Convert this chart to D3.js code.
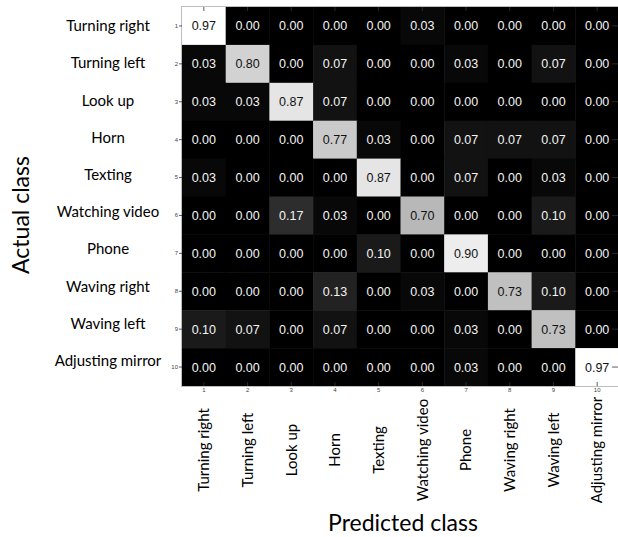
<!DOCTYPE html>
<html>
<head>
<meta charset="utf-8">
<script src="https://cdn.jsdelivr.net/npm/d3@7"></script>
<style>
  html, body { margin: 0; padding: 0; background: #fff; }
  svg { display: block; }
</style>
</head>
<body>
<svg id="chart" width="618" height="537"></svg>
<script>
// Activity classes (rows = actual, columns = predicted)
const classes = [
  "Turning right", "Turning left", "Look up", "Horn", "Texting",
  "Watching video", "Phone", "Waving right", "Waving left", "Adjusting mirror"
];
const tickNumbers = ["1", "2", "3", "4", "5", "6", "7", "8", "9", "10"];

// Normalised confusion matrix, one array per actual class
const rowTurningRight   = [0.97, 0.00, 0.00, 0.00, 0.00, 0.03, 0.00, 0.00, 0.00, 0.00];
const rowTurningLeft    = [0.03, 0.80, 0.00, 0.07, 0.00, 0.00, 0.03, 0.00, 0.07, 0.00];
const rowLookUp         = [0.03, 0.03, 0.87, 0.07, 0.00, 0.00, 0.00, 0.00, 0.00, 0.00];
const rowHorn           = [0.00, 0.00, 0.00, 0.77, 0.03, 0.00, 0.07, 0.07, 0.07, 0.00];
const rowTexting        = [0.03, 0.00, 0.00, 0.00, 0.87, 0.00, 0.07, 0.00, 0.03, 0.00];
const rowWatchingVideo  = [0.00, 0.00, 0.17, 0.03, 0.00, 0.70, 0.00, 0.00, 0.10, 0.00];
const rowPhone          = [0.00, 0.00, 0.00, 0.00, 0.10, 0.00, 0.90, 0.00, 0.00, 0.00];
const rowWavingRight    = [0.00, 0.00, 0.00, 0.13, 0.00, 0.03, 0.00, 0.73, 0.10, 0.00];
const rowWavingLeft     = [0.10, 0.07, 0.00, 0.07, 0.00, 0.00, 0.03, 0.00, 0.73, 0.00];
const rowAdjustMirror   = [0.00, 0.00, 0.00, 0.00, 0.00, 0.00, 0.03, 0.00, 0.00, 0.97];

const matrix = [rowTurningRight, rowTurningLeft, rowLookUp, rowHorn, rowTexting,
                rowWatchingVideo, rowPhone, rowWavingRight, rowWavingLeft, rowAdjustMirror];

const axisTitleX = "Predicted class";
const axisTitleY = "Actual class";

// ---- layout ----
const svg = d3.select("#chart");
const plot = { left: 182, right: 619, top: 7, bottom: 386 };
const labelFont = "Lato, 'Open Sans', sans-serif";

const x = d3.scaleBand().domain(d3.range(classes.length))
  .range([plot.left, plot.right]).paddingInner(0).paddingOuter(0);
const y = d3.scaleBand().domain(d3.range(classes.length))
  .range([plot.top, plot.bottom]).paddingInner(0).paddingOuter(0);

const maxVal = d3.max(matrix.flat());
const shade = d3.scaleLinear().domain([0, maxVal]).range([0, 255]).clamp(true);
const fillFor = v => { const g = Math.round(shade(v)); return `rgb(${g},${g},${g})`; };

const cells = [];
matrix.forEach((row, r) => row.forEach((v, c) => cells.push({ r, c, v })));

// heat-map cells
svg.append("g").selectAll("rect").data(cells).join("rect")
  .attr("x", d => x(d.c))
  .attr("y", d => y(d.r))
  .attr("width", x.bandwidth() + 0.5)
  .attr("height", y.bandwidth() + 0.5)
  .attr("fill", d => fillFor(d.v));

// cell value labels
svg.append("g").selectAll("text").data(cells).join("text")
  .attr("x", d => x(d.c) + x.bandwidth() / 2)
  .attr("y", d => y(d.r) + y.bandwidth() / 2)
  .attr("dy", "0.36em")
  .attr("text-anchor", "middle")
  .attr("font-family", "Arial, 'Liberation Sans', sans-serif")
  .attr("font-size", 12.5)
  .attr("fill", d => shade(d.v) > 128 ? "#111" : "#f4f4f4")
  .text(d => d.v.toFixed(2));

// frame
svg.append("rect")
  .attr("x", plot.left - 0.5).attr("y", plot.top - 0.5)
  .attr("width", plot.right - plot.left + 1).attr("height", plot.bottom - plot.top + 1)
  .attr("fill", "none").attr("stroke", "#bdbdbd").attr("stroke-width", 1);

// numeric tick axes
const tickColor = "#333";
const yAxis = svg.append("g").attr("transform", `translate(${plot.left},0)`)
  .call(d3.axisLeft(y).tickSize(3).tickPadding(1).tickFormat(i => tickNumbers[i]));
const xAxis = svg.append("g").attr("transform", `translate(0,${plot.bottom})`)
  .call(d3.axisBottom(x).tickSize(-4).tickPadding(2).tickFormat(i => tickNumbers[i]));
const topAxis = svg.append("g").attr("transform", `translate(0,${plot.top})`)
  .call(d3.axisTop(x).tickSize(-4).tickFormat(""));
const rightAxis = svg.append("g").attr("transform", `translate(${plot.right - 1},0)`)
  .call(d3.axisRight(y).tickSize(-6).tickFormat(""));
[yAxis, xAxis, topAxis, rightAxis].forEach(g => {
  g.select(".domain").remove();
  g.selectAll(".tick line").attr("stroke", tickColor).attr("stroke-width", 0.8);
  g.selectAll(".tick text").attr("fill", "#444").attr("font-size", 6)
    .attr("font-family", "Arial, 'Liberation Sans', sans-serif");
});

// class names on the y side
svg.append("g").selectAll("text").data(classes).join("text")
  .attr("x", 108)
  .attr("y", (d, i) => y(i) + y.bandwidth() / 2 - i * 0.7)
  .attr("dy", "0.35em")
  .attr("text-anchor", "middle")
  .attr("font-family", labelFont)
  .attr("font-size", 15)
  .attr("fill", "#000")
  .text(d => d);

// class names on the x side, rotated
svg.append("g").selectAll("text").data(classes).join("text")
  .attr("transform", (d, i) => `translate(${x(i) + x.bandwidth() / 2},450) rotate(-90)`)
  .attr("dy", "0.35em")
  .attr("text-anchor", "middle")
  .attr("font-family", labelFont)
  .attr("font-size", 15)
  .attr("fill", "#000")
  .text(d => d);

// axis titles
svg.append("text")
  .attr("x", 403).attr("y", 531)
  .attr("text-anchor", "middle")
  .attr("font-family", labelFont)
  .attr("font-size", 23)
  .attr("fill", "#000")
  .text(axisTitleX);

svg.append("text")
  .attr("transform", "translate(29,215) rotate(-90)")
  .attr("text-anchor", "middle")
  .attr("font-family", labelFont)
  .attr("font-size", 23)
  .attr("fill", "#000")
  .text(axisTitleY);
</script>
</body>
</html>
